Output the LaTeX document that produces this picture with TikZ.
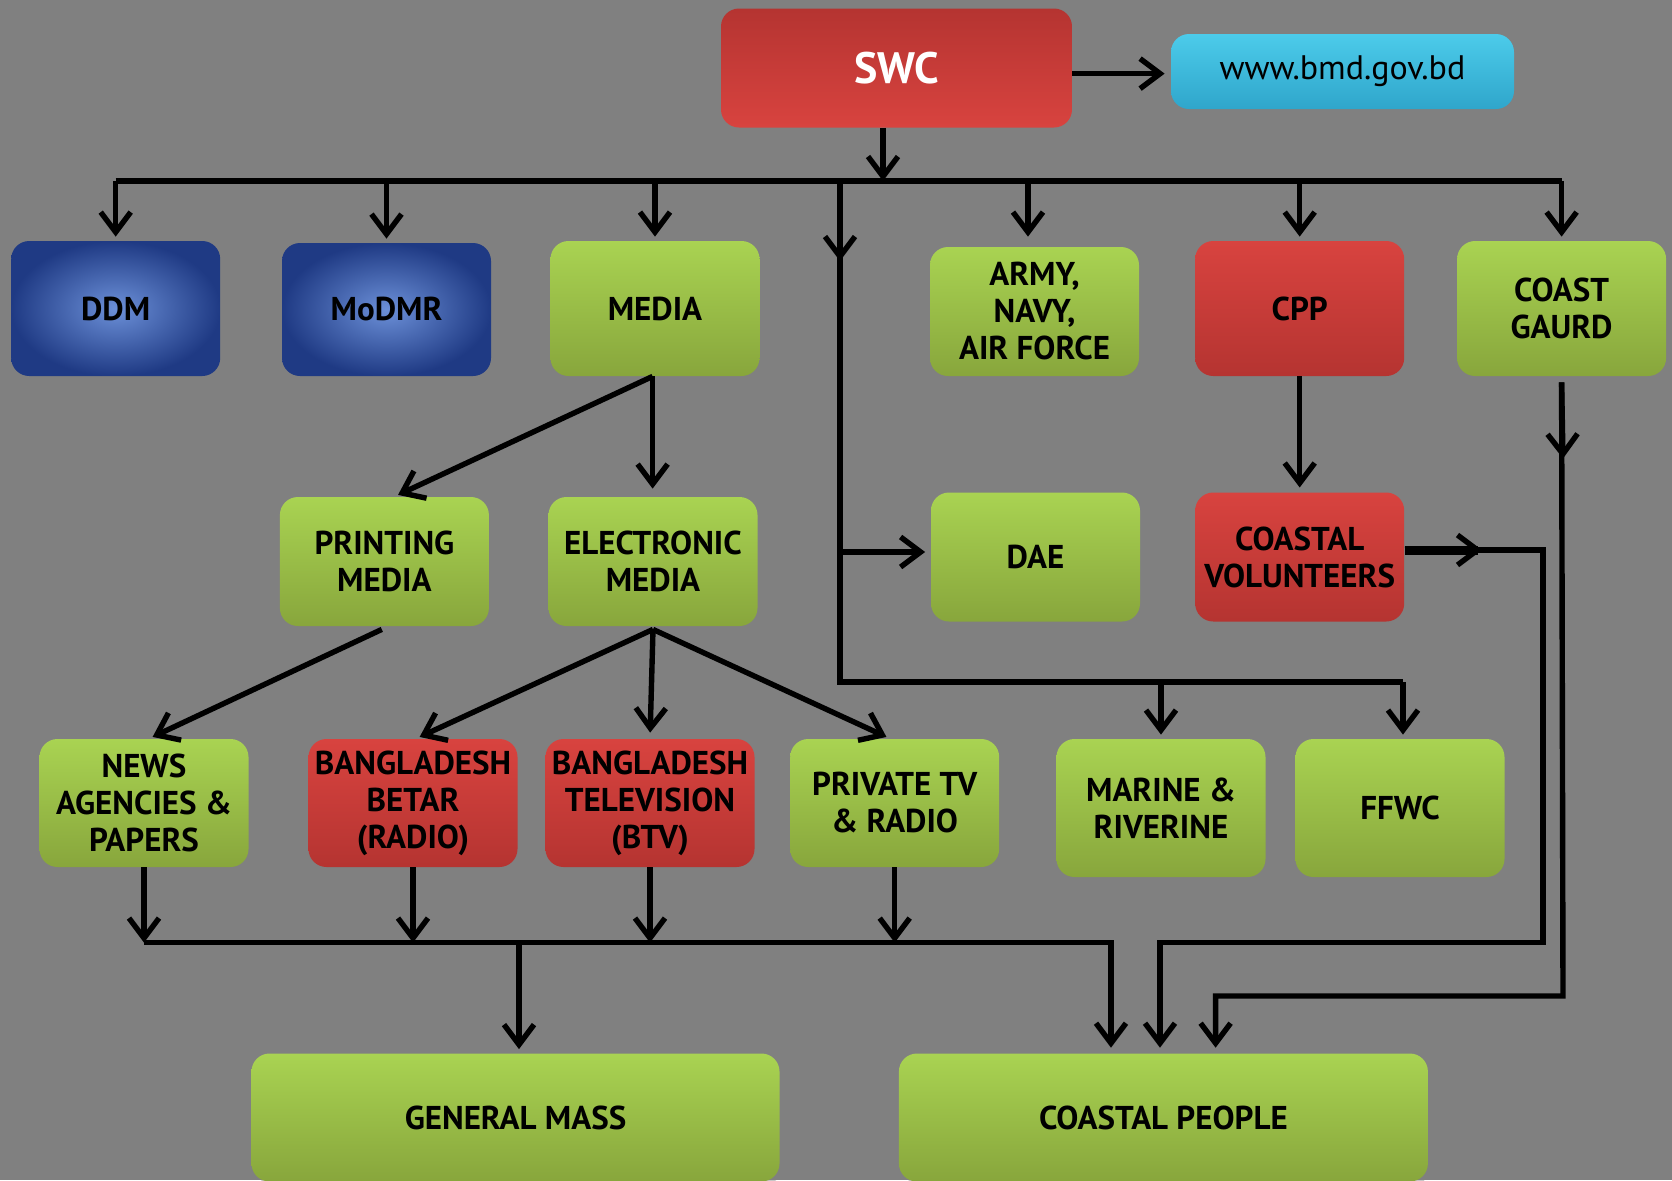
\documentclass[tikz,border=0pt]{standalone}
\usepackage{fontspec}
\setmainfont{PT Sans}
\usetikzlibrary{arrows.meta,shadows,calc}
\definecolor{bg}{HTML}{808080}
\definecolor{gtop}{HTML}{A9D352}
\definecolor{gbot}{HTML}{88A63C}
\definecolor{rtop}{HTML}{D8433F}
\definecolor{rbot}{HTML}{B53431}
\definecolor{bin}{HTML}{6C90D8}
\definecolor{bout}{HTML}{1F3A84}
\definecolor{ctop}{HTML}{4CCBEA}
\definecolor{cbot}{HTML}{2FA6CB}
\tikzset{
  box/.style={rounded corners=9pt, inner sep=2pt, align=center,
    font=\bfseries\fontsize{16.5}{18.5}\selectfont, minimum width=104.5pt,
    drop shadow={shadow xshift=1.5pt,shadow yshift=-1.5pt,opacity=0.45}},
  gbox/.style={box, top color=gtop, bottom color=gbot},
  rbox/.style={box, top color=rtop, bottom color=rbot},
  bbox/.style={box, inner color=bin, outer color=bout},
  arr/.style={-{Straight Barb[length=10pt,width=15pt]}, line width=2.7pt},
  ln/.style={line width=2.7pt},
}
\begin{document}
\begin{tikzpicture}[x=0.5pt,y=-0.5pt]
\fill[bg] (0,0) rectangle (1672,1180);
\useasboundingbox (0,0) rectangle (1672,1180);
% nodes
\node[box, top color=rbot, bottom color=rtop, minimum width=175.5pt, minimum height=59.5pt,
  font=\bfseries\fontsize{22}{24}\selectfont, text=white] (swc) at (896.5,68) {SWC};
\node[box, top color=ctop, bottom color=cbot, minimum width=171.5pt, minimum height=37.5pt,
  font=\fontsize{17}{19}\selectfont] (www) at (1342.5,71.5) {www.bmd.gov.bd};
\node[bbox, minimum height=67.5pt] (ddm) at (115.7,308.5) {DDM};
\node[bbox, minimum height=66.5pt] (modmr) at (386.5,309.5) {MoDMR};
\node[gbox, minimum height=67.5pt] (media) at (655,308.5) {MEDIA};
\node[gbox, minimum height=64.5pt] (army) at (1034.5,311.5) {ARMY,\\NAVY,\\AIR FORCE};
\node[rbox, minimum height=67.5pt] (cpp) at (1299.7,308.5) {CPP};
\node[gbox, minimum height=67.5pt] (coast) at (1561.6,308.5) {COAST\\GAURD};
\node[gbox, minimum height=64.5pt] (printing) at (384.4,561.5) {PRINTING\\MEDIA};
\node[gbox, minimum height=64.5pt] (electronic) at (653,561.5) {ELECTRONIC\\MEDIA};
\node[gbox, minimum height=64.5pt] (dae) at (1035.5,557) {DAE};
\node[rbox, minimum height=64.5pt] (cv) at (1299.7,557) {COASTAL\\VOLUNTEERS};
\node[gbox, minimum height=64pt] (news) at (144,803) {NEWS\\AGENCIES \&\\PAPERS};
\node[rbox, minimum height=64pt] (betar) at (413,803) {BANGLADESH\\BETAR\\(RADIO)};
\node[rbox, minimum height=64pt] (btv) at (650,803) {BANGLADESH\\TELEVISION\\(BTV)};
\node[gbox, minimum height=64pt] (private) at (894.7,803) {PRIVATE TV\\\& RADIO};
\node[gbox, minimum height=69pt] (marine) at (1161,808) {MARINE \&\\RIVERINE};
\node[gbox, minimum height=69pt] (ffwc) at (1400,808) {FFWC};
\node[gbox, minimum width=264pt, minimum height=64pt] (gen) at (515.5,1117.5) {GENERAL MASS};
\node[gbox, minimum width=264.5pt, minimum height=64pt] (cp) at (1163.4,1117.5) {COASTAL PEOPLE};
% coordinates
\coordinate (bus) at (0,181);
\coordinate (v0) at (840,181);
\coordinate (vm) at (840,261);
\coordinate (vd) at (840,552);
\coordinate (vb) at (840,682);
\coordinate (cvr) at (1543,550);
\coordinate (cvm) at (1482,550);
\coordinate (cvb) at (1543,942.6);
\coordinate (cvc) at (1160,942.6);
\coordinate (cgm) at (1563,458.5);
\coordinate (cgb) at (1563,996);
\coordinate (cgc) at (1215.6,996);
\coordinate (bb) at (0,942.6);
\coordinate (bbr) at (1111,942.6);
\coordinate (gm) at (519,942.6);
% connectors top
\draw[arr, shorten >=3pt] (swc.east |- 0,73.6) -- (www.west |- 0,73.6);
\draw[arr] ([xshift=-6.75pt]swc.south) -- ([xshift=-6.75pt]swc.south |- bus);
\draw[ln] (ddm.north |- bus) -- (coast.north |- bus);
\foreach \n in {ddm,modmr,media,cpp,coast}
  \draw[arr, shorten >=2pt] (\n.north |- bus) -- (\n.north);
\draw[arr, shorten >=5pt] ([xshift=-3.25pt]army.north |- bus) -- ([xshift=-3.25pt]army.north);
% middle vertical line
\draw[ln] (v0) -- (vb) -- ([xshift=1.5pt]ffwc.north |- vb);
\draw[arr] (v0) -- (vm);
\draw[arr, shorten >=2.75pt] (vd) -- (vd -| dae.west);
\draw[arr, shorten >=2pt] (marine.north |- vb) -- (marine.north);
\draw[arr, shorten >=2pt] ([xshift=1.5pt]ffwc.north |- vb) -- ([xshift=1.5pt]ffwc.north);
% media tree
\draw[arr, shorten >=2pt] ([xshift=-1.2pt]media.south) -- ([xshift=5pt]printing.north);
\draw[arr, shorten >=4pt] ([xshift=-1.2pt]media.south) -- ([xshift=-1.2pt]media.south |- electronic.north);
\draw[arr, shorten >=2pt] ([xshift=-1.3pt,yshift=-1.5pt]printing.south) -- ([xshift=2.5pt]news.north);
\draw[arr, shorten >=2pt] ([yshift=-1.5pt]electronic.south) -- ([xshift=1.5pt]betar.north);
\draw[arr, shorten >=3pt] ([yshift=-1.5pt]electronic.south) -- ([xshift=-1.5pt]electronic.south |- btv.north);
\draw[arr, shorten >=2pt] ([yshift=-1.5pt]electronic.south) -- ([xshift=-2.3pt]private.north);
% cpp and coastal volunteers
\draw[arr, shorten >=2.3pt] (cpp.south) -- (cv.north);
\draw[line width=4.5pt, shorten >=2pt] ([yshift=3.5pt]cv.east) -- (cvm);
\draw[arr] ([yshift=3.5pt]cv.east) -- (cvm);
\draw[arr, shorten >=2.7pt] ([yshift=3.5pt]cv.east) -- (cvr) -- (cvb) -- (cvc) -- (cvc |- cp.north);
% coast guard
\draw[arr] ([yshift=-3pt]coast.south) -- (cgm);
\draw[arr, shorten >=2.7pt] ([yshift=-3pt]coast.south) -- (cgb) -- (cgc) -- (cgc |- cp.north);
% bottom bus
\foreach \n in {news,betar,btv,private}
  \draw[arr] (\n.south) -- (\n.south |- bb);
\draw[arr, shorten >=2.7pt] (news.south |- bb) -- (bbr) -- (bbr |- cp.north);
\draw[arr, shorten >=2pt] (gm) -- (gm |- gen.north);
\end{tikzpicture}
\end{document}
